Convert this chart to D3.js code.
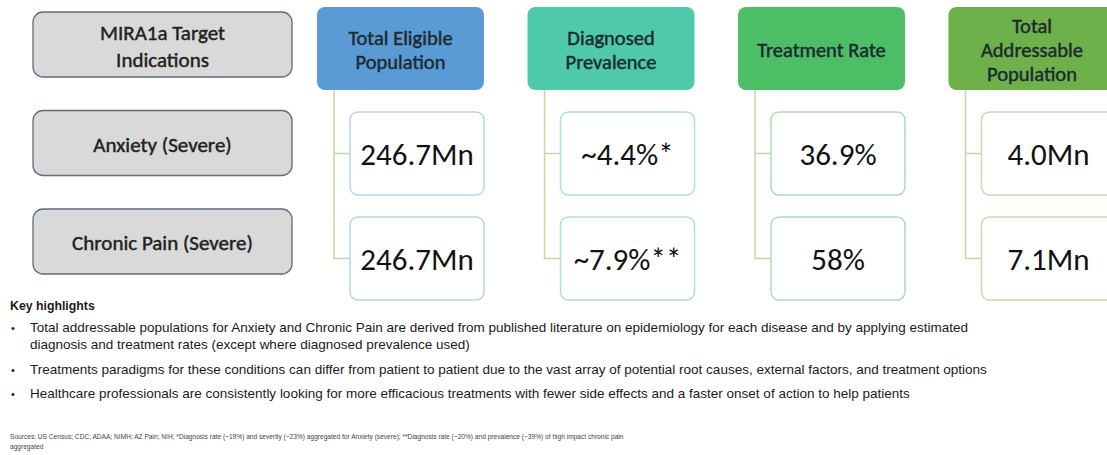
<!DOCTYPE html>
<html>
<head>
<meta charset="utf-8">
<script src="https://cdn.jsdelivr.net/npm/d3@7"></script>
<style>
  body { margin: 0; background: #fff; }
  svg { display: block; }
  .box-text { font-family: Carlito, Lato, sans-serif; }
  .note { font-family: "Liberation Sans", Arial, sans-serif; fill: #1a1a1a; }
</style>
</head>
<body>
<svg width="1107" height="455"></svg>
<script>
// **** Data ****
var indications = [["MIRA1a Target", "Indications"], ["Anxiety (Severe)"], ["Chronic Pain (Severe)"]];
var columns = [["Total Eligible", "Population"], ["Diagnosed", "Prevalence"], ["Treatment Rate"], ["Total", "Addressable", "Population"]];
var anxietyValues = ["246.7Mn", "~4.4%*", "36.9%", "4.0Mn"];
var chronicPainValues = ["246.7Mn", "~7.9%**", "58%", "7.1Mn"];
var headerColors = ["#5b9bd5", "#4ec9ac", "#4cbf66", "#6eb14a"];
var borderColors = ["#b9d3e8", "#aee0d4", "#acdcb6", "#c6dcaa"];
var highlights = [
    ["Total addressable populations for Anxiety and Chronic Pain are derived from published literature on epidemiology for each disease and by applying estimated",
     "diagnosis and treatment rates (except where diagnosed prevalence used)"],
    ["Treatments paradigms for these conditions can differ from patient to patient due to the vast array of potential root causes, external factors, and treatment options"],
    ["Healthcare professionals are consistently looking for more efficacious treatments with fewer side effects and a faster onset of action to help patients"]
];
var sources = ["Sources: US Census; CDC; ADAA; NIMH; AZ Pain; NIH; *Diagnosis rate (~19%) and severity (~23%) aggregated for Anxiety (severe); **Diagnosis rate (~20%) and prevalence (~39%) of high impact chronic pain",
               "aggregated"];

var svg = d3.select('svg');

// **** Scales ****
var colScale = d3.scaleBand()
    .domain(d3.range(columns.length))
    .range([317, 1115.5])
    .paddingInner(43.5 / 210.5)
    .paddingOuter(0);

var rowScale = d3.scaleLinear().domain([0, 2]).range([7, 217]);   // header row, anxiety, chronic pain
var grayScale = d3.scaleLinear().domain([0, 2]).range([12, 209]);

var valueRows = [anxietyValues, chronicPainValues];

// **** Left gray boxes ****
var gray = svg.append('g').selectAll('g')
    .data(indications)
    .enter().append('g')
    .attr('transform', function (d, i) { return 'translate(33,' + grayScale(i) + ')'; });

gray.append('rect')
    .attr('width', 259).attr('height', 65)
    .attr('rx', 10).attr('ry', 10)
    .style('fill', '#d9d9d9')
    .style('stroke', '#5e6d80')
    .style('stroke-width', 1.3);

gray.append('text')
    .attr('class', 'box-text')
    .attr('x', 129.5)
    .attr('text-anchor', 'middle')
    .style('font-size', '21px')
    .style('fill', '#222')
    .style('stroke', '#222')
    .style('stroke-width', 0.45)
    .each(function (d) {
        var t = d3.select(this);
        d.forEach(function (line, j) {
            t.append('tspan')
                .attr('x', 129.5)
                .attr('y', 34 + (j - (d.length - 1) / 2) * 27)
                .attr('dy', '0.35em')
                .text(line);
        });
    });

// **** Columns ****
var col = svg.append('g').selectAll('g')
    .data(columns)
    .enter().append('g')
    .attr('transform', function (d, i) { return 'translate(' + colScale(i) + ',0)'; });

var bw = colScale.bandwidth();
var boxH = 83;

// connectors
col.append('path')
    .attr('d', function () {
        var x0 = 17, y0 = rowScale(0) + boxH;
        var y1 = rowScale(1) + boxH / 2, y2 = rowScale(2) + boxH / 2;
        return 'M' + x0 + ',' + y0 + 'V' + y2 + 'H33' + 'M' + x0 + ',' + y1 + 'H33';
    })
    .style('fill', 'none')
    .style('stroke', '#c8d6a4')
    .style('stroke-width', 1.5);

// header boxes
col.append('rect')
    .attr('y', rowScale(0))
    .attr('width', bw).attr('height', boxH)
    .attr('rx', 8).attr('ry', 8)
    .style('fill', function (d, i) { return headerColors[i]; });

col.append('text')
    .attr('class', 'box-text')
    .attr('text-anchor', 'middle')
    .style('font-size', '20.5px')
    .style('fill', '#1d2a30')
    .style('stroke', '#1d2a30')
    .style('stroke-width', 0.45)
    .each(function (d) {
        var t = d3.select(this);
        d.forEach(function (line, j) {
            t.append('tspan')
                .attr('x', bw / 2)
                .attr('y', rowScale(0) + boxH / 2 + 1 + (j - (d.length - 1) / 2) * 24)
                .attr('dy', '0.35em')
                .text(line);
        });
    });

// value boxes
valueRows.forEach(function (vals, r) {
    col.append('rect')
        .attr('x', 33)
        .attr('y', rowScale(r + 1))
        .attr('width', bw - 33).attr('height', boxH)
        .attr('rx', 8).attr('ry', 8)
        .style('fill', '#fff')
        .style('stroke', function (d, i) { return borderColors[i]; })
        .style('stroke-width', 1.5);

    col.append('text')
        .attr('class', 'box-text')
        .attr('x', 33 + (bw - 33) / 2)
        .attr('y', rowScale(r + 1) + boxH / 2)
        .attr('dy', '0.36em')
        .attr('text-anchor', 'middle')
        .style('font-size', '31px')
        .style('fill', '#111')
        .text(function (d, i) { return vals[i]; });
});

// **** Key highlights ****
svg.append('text')
    .attr('class', 'note')
    .attr('x', 10).attr('y', 310)
    .style('font-size', '12.3px')
    .style('font-weight', 'bold')
    .text('Key highlights');

var bulletY = [332, 374, 398];
highlights.forEach(function (lines, b) {
    svg.append('text')
        .attr('class', 'note')
        .attr('x', 11).attr('y', bulletY[b])
        .style('font-size', '11px')
        .text('•');
    lines.forEach(function (line, j) {
        svg.append('text')
            .attr('class', 'note')
            .attr('x', 30).attr('y', bulletY[b] + j * 17)
            .style('font-size', '13.5px')
            .text(line);
    });
});

sources.forEach(function (line, j) {
    svg.append('text')
        .attr('class', 'note')
        .attr('x', 10).attr('y', 439 + j * 10)
        .style('font-size', '6.6px')
        .style('fill', '#444')
        .text(line);
});
</script>
</body>
</html>
